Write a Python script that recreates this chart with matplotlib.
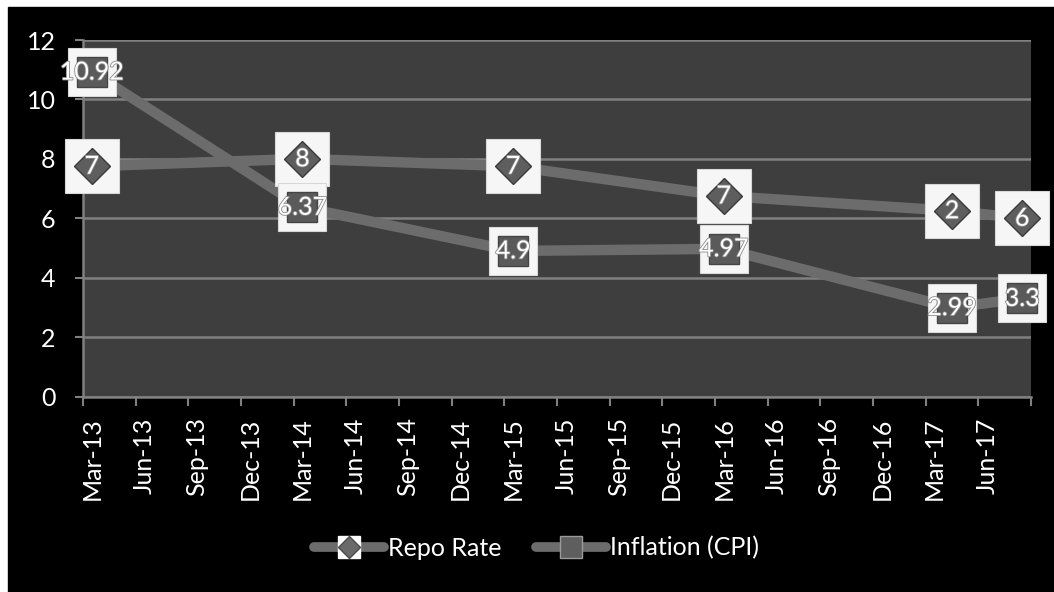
import matplotlib
matplotlib.use("Agg")
import matplotlib.pyplot as plt
from matplotlib.lines import Line2D
from matplotlib.patches import Rectangle
from matplotlib.legend_handler import HandlerTuple
import matplotlib.patheffects as pe

# ---------------- data ----------------
dates = ["2013-03", "2014-03", "2015-03", "2016-03", "2017-04", "2017-08"]
repo = [7.75, 8.0, 7.75, 6.75, 6.25, 6.0]
repo_labels = ["7", "8", "7", "7", "2", "6"]
cpi = [10.92, 6.37, 4.9, 4.97, 2.99, 3.3]
cpi_labels = ["10.92", "6.37", "4.9", "4.97", "2.99", "3.3"]
tick_labels = ["Mar-13", "Jun-13", "Sep-13", "Dec-13", "Mar-14", "Jun-14",
               "Sep-14", "Dec-14", "Mar-15", "Jun-15", "Sep-15", "Dec-15",
               "Mar-16", "Jun-16", "Sep-16", "Dec-16", "Mar-17", "Jun-17"]
series_names = ["Repo Rate", "Inflation (CPI)"]
y_ticks = [0, 2, 4, 6, 8, 10, 12]

# ---------------- style ----------------
W, H, DPI = 1054, 592, 100
FONT = ["Lato", "DejaVu Sans"]
plt.rcParams["font.family"] = FONT
BG = "#3e3e3e"
LINE = "#6c6c6c"
GRID = "#808080"
BOX = "#f6f6f6"


def month_index(s):
    y, m = s.split("-")
    return (int(y) - 2013) * 12 + (int(m) - 3)


x = [month_index(d) + 0.5 for d in dates]   # centre of month slot
n_months = 3 * len(tick_labels)             # axis spans 54 months

fig = plt.figure(figsize=(W / DPI, H / DPI), dpi=DPI)
fig.patch.set_facecolor("white")
fig.add_artist(Rectangle((8 / W, 0), 1 - 8 / W, 1 - 7 / H,
                         transform=fig.transFigure, color="black", zorder=0))

L, R, T, B = 83, 1031, 40, 396.5
ax = fig.add_axes([L / W, 1 - B / H, (R - L) / W, (B - T) / H])
ax.set_facecolor(BG)
ax.set_xlim(0, n_months)
ax.set_ylim(0, 12)

# grid
ax.set_yticks(y_ticks)
ax.grid(axis="y", color=GRID, lw=1.8)
ax.set_axisbelow(True)
for s in ["top", "right"]:
    ax.spines[s].set_visible(False)
for s in ["left", "bottom"]:
    ax.spines[s].set_color(GRID)
    ax.spines[s].set_linewidth(1.8)

ax.tick_params(axis="y", colors=GRID, labelcolor="white", labelsize=18,
               length=5.8, width=1.5, pad=14)
ax.set_xticks(range(0, n_months + 1, 3))
ax.set_xticklabels([])
ax.tick_params(axis="x", which="major", colors=GRID, length=6.5, width=1.5)
ax.set_xticks([3 * k + 0.5 for k in range(len(tick_labels))], minor=True)
ax.set_xticklabels(tick_labels, minor=True, rotation=90, color="white",
                   fontsize=18)
ax.tick_params(axis="x", which="minor", length=0, pad=15)

# lines
ax.plot(x, repo, color=LINE, lw=7.5, solid_capstyle="butt", zorder=2)
ax.plot(x, cpi, color=LINE, lw=7.5, solid_capstyle="butt", zorder=2)

outline = [pe.withStroke(linewidth=1.2, foreground="#8a8a8a")]

# repo markers: white label box + diamond + text
ax.plot(x, repo, ls="none", marker="s", ms=39.5, mfc=BOX, mec="#d8d8d8",
        mew=0.8, zorder=3, clip_on=False)
ax.plot(x, repo, ls="none", marker="D", ms=18, mfc="#5e5e5e",
        mec="#3a3a3a", mew=1.0, zorder=4, clip_on=False)
for xi, yi, lab in zip(x, repo, repo_labels):
    ax.text(xi, yi, lab, color="white", fontsize=18, ha="center",
            va="center", zorder=5, clip_on=False, path_effects=outline)

# cpi markers: white label box + square + text
ax.plot(x, cpi, ls="none", marker="s", ms=34.5, mfc=BOX, mec="#d8d8d8",
        mew=0.8, zorder=3, clip_on=False)
ax.plot(x, cpi, ls="none", marker="s", ms=21, mfc="#5a5a5a",
        mec="#444444", mew=1.0, zorder=4, clip_on=False)
for xi, yi, lab in zip(x, cpi, cpi_labels):
    ax.text(xi, yi, lab, color="white", fontsize=18, ha="center",
            va="center", zorder=5, clip_on=False, path_effects=outline)

# legend
l1 = Line2D([], [], color=LINE, lw=7, solid_capstyle="round")
b1 = Line2D([], [], ls="none", marker="s", ms=16.5, mfc="white", mec="white")
d1 = Line2D([], [], ls="none", marker="D", ms=11, mfc="#6a6a6a",
            mec="#4a4a4a")
l2 = Line2D([], [], color=LINE, lw=7, solid_capstyle="round")
d2 = Line2D([], [], ls="none", marker="s", ms=16, mfc="#5e5e5e",
            mec="#9a9a9a", mew=1)
leg = fig.legend(handles=[(l1, b1, d1), (l2, d2)], labels=series_names,
                 handler_map={tuple: HandlerTuple(ndivide=1, pad=0)},
                 loc="center", bbox_to_anchor=(536.7 / W, 1 - 548 / H),
                 ncol=2, frameon=False, fontsize=18, handlelength=2.8,
                 handletextpad=0.15, columnspacing=1.4)
for t in leg.get_texts():
    t.set_color("white")

fig.savefig("out.png", dpi=DPI, facecolor=fig.get_facecolor())
